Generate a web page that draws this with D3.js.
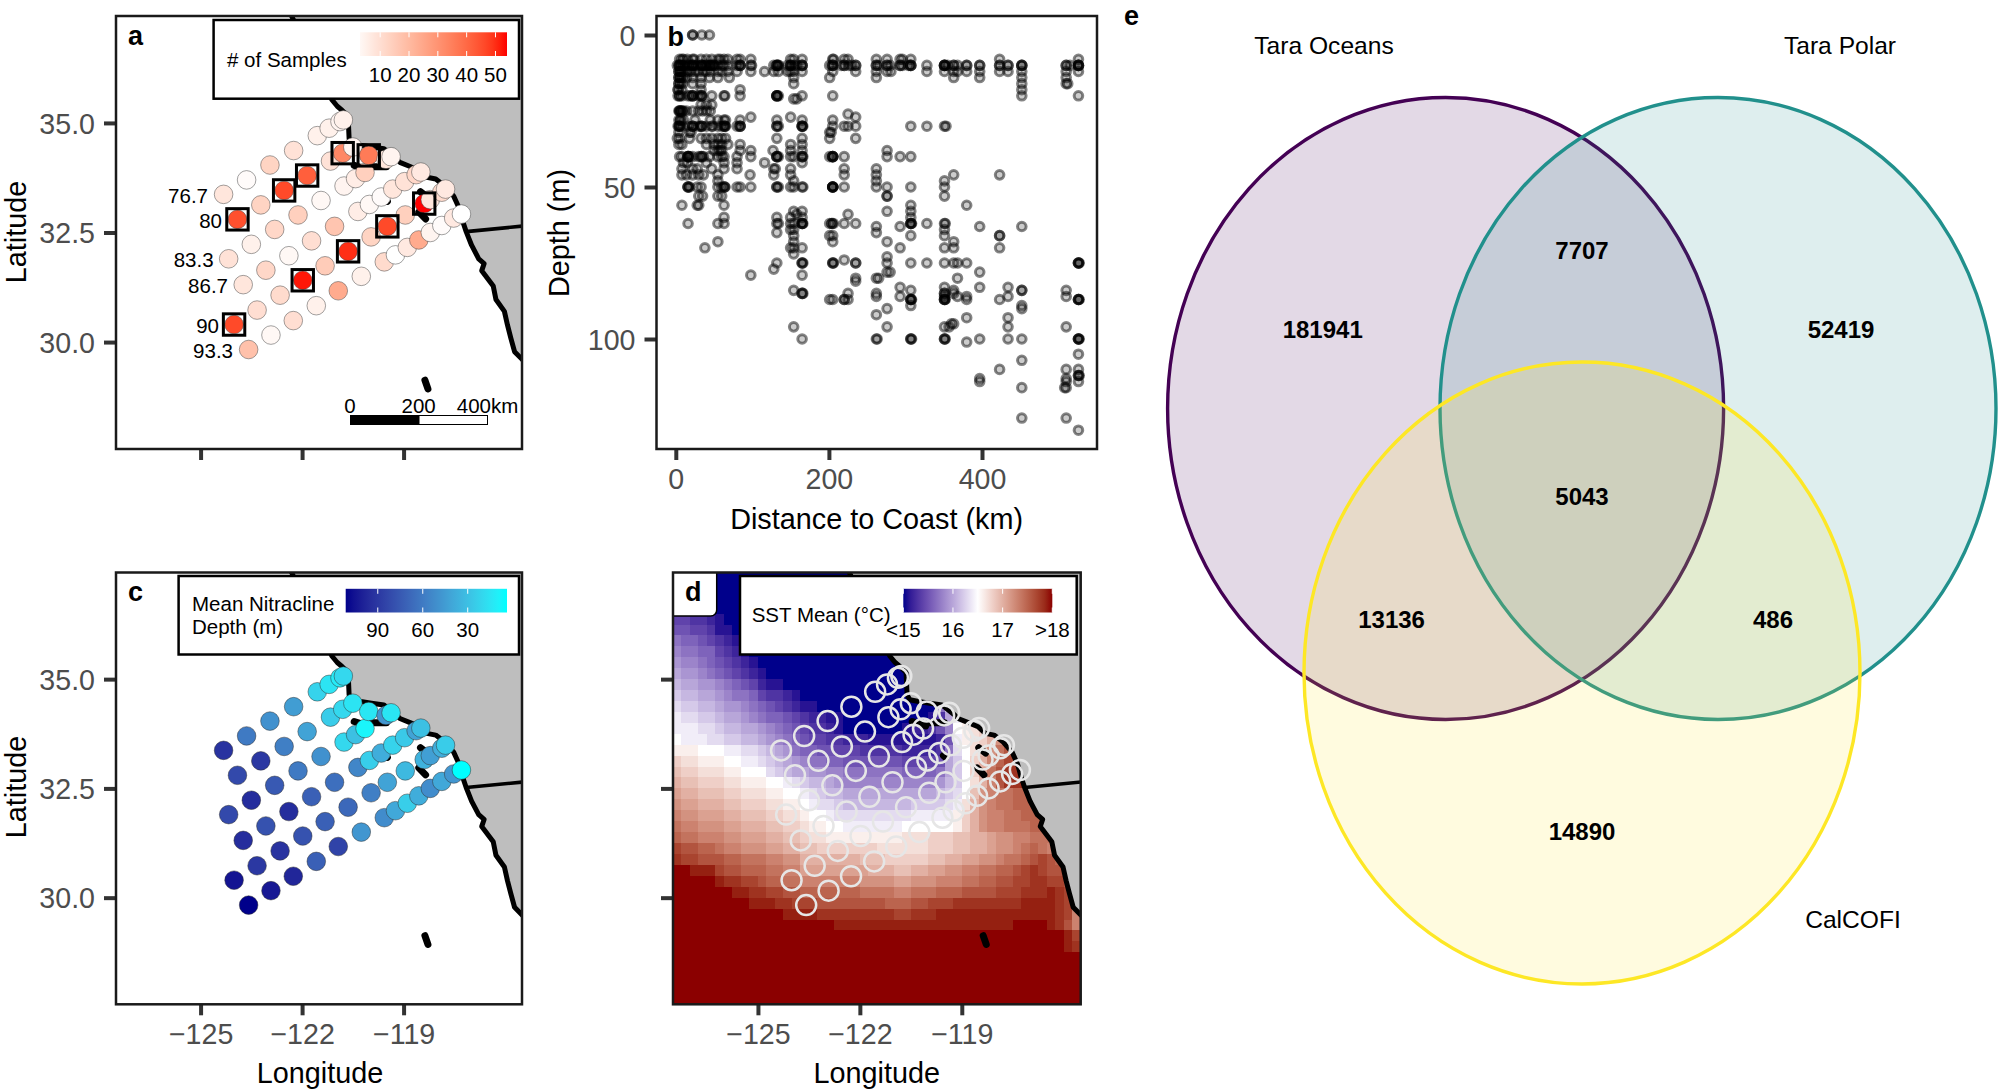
<!DOCTYPE html>
<html>
<head>
<meta charset="utf-8">
<title>CalCOFI stations</title>
<script src="https://cdnjs.cloudflare.com/ajax/libs/d3/7.8.5/d3.min.js"></script>
<style>
  body { margin: 0; background: #fff; }
  text { font-family: "Liberation Sans", Arial, sans-serif; }
  .axis .domain { display: none; }
  .axis line { stroke: #333; stroke-width: 4; }
  .axis text { fill: #4d4d4d; font-size: 28.6px; font-family: "Liberation Sans", Arial, sans-serif; }
  .title { font-size: 28.8px; fill: #000; }
  .small { font-size: 20.5px; fill: #000; }
  .tag { font-size: 27px; font-weight: bold; fill: #000; }
  .frame { fill: none; stroke: #1a1a1a; stroke-width: 2.5; }
  .legendbox { fill: #fff; stroke: #000; stroke-width: 2.5; }
</style>
</head>
<body>
<svg id="fig" width="1998" height="1091" xmlns="http://www.w3.org/2000/svg"></svg>
<script>
// Stations, one row per CalCOFI line, offshore to coast
var stationLon = [
  -123.58, -122.92, -122.26, -121.58, -120.93, -120.25, -119.57, -119.24, -118.89, -118.55, -118.21, -117.87, -117.52, -117.29,
  -124.01, -123.33, -122.65, -121.98, -121.32, -120.64, -119.96, -119.48, -118.95, -118.39, -118.21, -117.87, -117.76,
  -123.74, -123.07, -122.39, -121.72, -121.04, -120.35, -120.01, -119.66, -119.32, -118.97, -118.63, -118.49,
  -124.17, -123.50, -122.81, -122.12, -121.44, -120.76, -120.42, -120.14,
  -123.91, -123.22, -122.53, -121.85, -121.16, -120.80, -120.50, -120.03, -119.52, -119.37,
  -124.32, -123.64, -122.95, -122.25, -121.55, -121.20, -120.88, -120.78
];
var stationLat = [
  29.83, 30.16, 30.49, 30.83, 31.17, 31.50, 31.83, 31.99, 32.16, 32.33, 32.50, 32.66, 32.83, 32.92,
  30.40, 30.73, 31.07, 31.41, 31.74, 32.07, 32.40, 32.64, 32.90, 33.16, 33.25, 33.42, 33.49,
  31.31, 31.64, 31.97, 32.31, 32.64, 32.98, 33.14, 33.31, 33.49, 33.66, 33.82, 33.88,
  31.90, 32.23, 32.57, 32.90, 33.23, 33.56, 33.73, 33.87,
  32.80, 33.13, 33.46, 33.80, 34.13, 34.31, 34.45, 34.26, 34.17, 34.23,
  33.37, 33.70, 34.04, 34.37, 34.71, 34.88, 35.03, 35.07
];
var stationSamples = [
  18, 3, 10, 5, 24, 5, 11, 1, 7, 24, 4, 2, 7, 1,
  46, 10, 11, 52, 15, 50, 13, 46, 14, 53, 8, 11, 7,
  8, 12, 3, 10, 17, 6, 3, 2, 8, 9, 12, 7,
  9, 5, 12, 14, 3, 4, 6, 14,
  45, 13, 46, 42, 9, 33, 4, 36, 8, 4,
  8, 2, 13, 9, 5, 5, 4, 5
];
var stationNitracline = [
  111, 103, 98, 72, 85, 48, 52, 40, 24, 38, 52, 40, 48, 4,
  105, 90, 92, 78, 72, 68, 58, 42, 33, 36, 44, 38, 25,
  95, 78, 95, 72, 65, 55, 24, 38, 22, 26, 42, 30,
  82, 95, 75, 60, 50, 20, 30, 8,
  82, 90, 58, 42, 25, 20, 15, 14, 48, 14,
  92, 60, 50, 45, 22, 15, 12, 20
];
var boxedSamples = 30; // stations sampled this often get a box

var lineNames = ['76.7', '80', '83.3', '86.7', '90', '93.3'];

var coastLon = [-122.41, -121.12, -120.96, -120.82, -120.64, -120.61, -120.53, -120.27, -119.95, -119.58, -119.21, -119.11, -118.79, -118.52, -118.31, -118.05, -117.78, -117.52, -117.36, -117.25, -117.15, -116.99, -116.78, -116.62, -116.69, -116.35, -116.27, -116.02, -115.93, -115.83, -115.72, -115.49, -115.3];
var coastLat = [37.6, 35.53, 35.38, 35.29, 35.15, 34.64, 34.53, 34.49, 34.45, 34.41, 34.18, 34.10, 34.00, 33.91, 33.76, 33.72, 33.56, 33.33, 33.06, 32.75, 32.52, 32.21, 31.90, 31.79, 31.63, 31.28, 30.97, 30.70, 30.39, 30.09, 29.78, 29.60, 29.5];
var borderLon = [-117.15, -115.3];
var borderLat = [32.52, 32.66];
var islands = [
  [[-120.46, 34.03], [-120.06, 33.93]],
  [[-119.95, 34.0], [-119.51, 34.0]],
  [[-119.54, 33.25], [-119.48, 33.21]],
  [[-118.50, 33.43], [-118.30, 33.31]],
  [[-118.55, 32.97], [-118.35, 32.81]],
  [[-118.37, 29.13], [-118.28, 28.93]]
];

// Depth (m) of each sample row and the distances (km) sampled at that depth
var sampleDepths = [0, 8, 10, 12, 14, 16, 18, 20, 21, 23, 25, 26, 27, 28, 30, 32, 34, 36, 38, 40, 42, 44, 46, 48, 50, 53, 56, 58, 59, 60, 62, 63, 64, 65, 66, 68, 70, 72, 73, 74, 75, 77, 78, 79, 80, 81, 83, 84, 85, 86, 87, 89, 90, 92, 93, 95, 96, 100, 101, 105, 107, 110, 112, 113, 114, 116, 126, 130];
var sampleDistances = [
  [22, 22, 34, 44],
  [5, 8, 10, 15, 22, 24, 33, 40, 47, 55, 58, 63, 68, 80, 84, 98, 150, 154, 165, 205, 206, 220, 225, 262, 276, 293, 296, 307, 423, 526],
  [2, 4, 5, 5, 6, 8, 10, 13, 16, 19, 22, 22, 22, 25, 28, 33, 34, 34, 36, 40, 40, 44, 44, 47, 47, 50, 50, 55, 60, 63, 68, 80, 84, 84, 84, 98, 99, 128, 132, 132, 132, 134, 134, 146, 150, 150, 150, 154, 158, 165, 165, 165, 201, 205, 205, 205, 216, 220, 220, 226, 230, 235, 235, 262, 262, 265, 276, 276, 280, 293, 293, 296, 304, 307, 307, 307, 328, 351, 351, 351, 351, 355, 363, 363, 368, 380, 380, 397, 397, 423, 423, 434, 434, 452, 452, 452, 510, 510, 515, 526, 526, 526, 526],
  [4, 4, 6, 6, 8, 12, 16, 20, 25, 30, 36, 40, 45, 55, 60, 68, 80, 98, 116, 128, 134, 146, 150, 154, 165, 205, 235, 262, 276, 281, 328, 351, 363, 368, 380, 397, 423, 434, 452, 510, 526],
  [4, 4, 6, 6, 9, 14, 22, 33, 44, 55, 70, 154, 201, 262, 363, 397, 452, 510],
  [4, 4, 6, 9, 22, 33, 154, 452, 510, 512],
  [3, 3, 8, 33, 84, 452],
  [3, 5, 5, 8, 16, 19, 22, 22, 22, 30, 33, 34, 34, 47, 63, 64, 84, 132, 132, 132, 132, 134, 165, 205, 452, 526],
  [154, 158],
  [33, 40, 47],
  [4, 5, 5, 6, 8, 8, 10, 14, 22, 30, 35, 40, 45],
  [225],
  [98, 150, 235],
  [4, 6, 6, 10, 25, 45, 55, 63, 65, 84, 132, 165, 205],
  [3, 4, 5, 5, 8, 16, 22, 22, 22, 30, 33, 34, 34, 40, 47, 48, 55, 60, 63, 64, 64, 65, 80, 84, 84, 84, 132, 132, 134, 165, 165, 165, 166, 205, 220, 225, 235, 307, 328, 351, 353],
  [4, 18, 20, 201, 203],
  [2, 5, 18, 33, 40, 47, 55, 60, 65, 132, 165, 201, 235],
  [4, 8, 40, 50, 55, 60, 68, 84, 150, 165],
  [50, 55, 58, 60, 84, 98, 127, 150, 165, 276],
  [5, 8, 16, 16, 16, 16, 18, 22, 30, 33, 34, 36, 44, 55, 60, 63, 80, 98, 132, 132, 132, 134, 150, 154, 165, 165, 166, 201, 205, 205, 205, 205, 220, 276, 293, 307],
  [10, 15, 40, 63, 80, 116, 165],
  [8, 22, 28, 47, 63, 80, 128, 130, 150, 220, 262],
  [8, 14, 22, 30, 36, 55, 97, 128, 150, 220, 262, 363, 423],
  [55, 154, 262, 351],
  [16, 16, 16, 18, 28, 33, 55, 60, 63, 64, 64, 80, 84, 98, 132, 132, 134, 150, 154, 165, 166, 205, 205, 205, 205, 205, 220, 262, 276, 307, 351],
  [30, 35, 55, 60, 276, 276, 351],
  [8, 28, 30, 63, 307, 380],
  [154, 165, 276, 307],
  [158, 225],
  [63, 132, 150, 165, 307],
  [16, 55, 63, 132, 134, 150, 154, 165, 165, 165, 166, 201, 204, 204, 206, 220, 235, 307, 307, 307, 308, 328, 351, 352],
  [262, 293, 397, 452],
  [150, 154, 351],
  [132, 262],
  [154, 201, 205, 307, 351, 423, 423],
  [55, 154, 205, 276, 363],
  [38, 150, 154, 165, 293, 351, 363, 423],
  [154],
  [276],
  [220],
  [132, 165, 165, 166, 205, 205, 206, 235, 235, 276, 307, 328, 351, 363, 368, 380, 526, 526, 526, 527],
  [128],
  [276, 280, 397],
  [98, 165],
  [235, 262, 265, 368],
  [235],
  [293, 351, 397, 434],
  [154, 307, 363, 452, 452, 510],
  [165, 165, 166, 225, 262, 351, 351, 363],
  [262, 293, 351, 368, 380, 434, 510],
  [201, 205, 220, 220, 225, 307, 307, 307, 308, 351, 351, 351, 352, 380, 423, 526, 526, 526, 527],
  [307, 452],
  [276, 452],
  [262],
  [380, 434],
  [360, 363],
  [154, 276, 351, 357, 434, 510],
  [165, 262, 263, 307, 307, 308, 351, 351, 352, 397, 434, 452, 526, 526, 526, 527],
  [380],
  [526],
  [452],
  [423, 510, 526],
  [526, 526, 527],
  [397, 510],
  [397, 510, 526],
  [452, 508, 510],
  [452, 510],
  [526]
];

// SST rows north to south on a 0.25 degree grid, west to east. One character per
// cell in base 36: 0 = 15.0 C up to u = 18.0 C. A row's last value runs to the edge.
var sstRows = [
  '0',
  '0',
  '0',
  '0',
  '4433210',
  '55443110',
  '766543210',
  '8776643210',
  '98876543210',
  'a99876543210',
  'baa99876542110',
  'cbbaa98776433210',
  'dccbba99876543211000000000000007cd',
  'eddccbaa98766543221100000000001' + '3aef',
  'eeeddcbbaa9876543321000000012235' + '8fghijk',
  'feeeddccbba98765443322211111111' + '25eghikmop',
  'gggfffeeddcba976655444333332222' + '37dfhjmoqrr',
  'ihhgggffeedcba98776655555554444' + '5acfiknprss',
  'jiihhhggfffdcbaa998877777776666' + '7acfiloqsst',
  'kjjiiihhgggffedcbba988888888888' + '9bcfhknqsstt',
  'lkkjjjiihhhggffedcbbaaaaaaaaaaa' + 'bcdfjmnooppq',
  'mllkkkjjiiihhggfeddcbbbbbbbbccc' + 'cdehkmnoopppp',
  'nmmlllkkjjjiihhgffedddddddddeee' + 'eegikmnnoopppp',
  'onnmmmllkkkjjiihggffeeeeeeeffff' + 'ffgikmnnooopppp',
  'poonnnmmlllkkjjihhgg' + 'ggggggg' + 'hhhiiijjkklmmnnooonnn',
  'rqqpponnmmmllkkjjiii' + 'iiiihhh' + 'hhhiiijjkklmmnoponnnn',
  'srrqqqppooonnmmkkkkk' + 'kkjjjii' + 'iiijjkkllmmnoopqrqppp',
  'uutttrqqpppoonnlllll' + 'lllkkkj' + 'jkkllmmnnooppqrsrqqqq',
  'uuuuutssrrqppoonnnnn' + 'nnmmmml' + 'lmmmnnnooppqqrrssrrqq',
  'uuuuuuuttssrrqqppppp' + 'ppoooon' + 'nooopppqqqqrrrssstsrq',
  'uuuuuuuuutttssrrrqqq' + 'qqqqqpp' + 'pqqrrrssssssssttttsrq',
  'uuuuuuuuuuuuuttttsss' + 'ssssssr' + 'rssstttttttttttttt' + 'srn',
  'uuuuuuuuuuuuuuuuuuut' + 'ttttttt' + 'tttttttttttttuuuutsqn',
  'uuuuuuuuuuuuuuuuuuuuuuuuuuuuuuuuuuuuuuuuuuuuuutr',
  'uuuuuuuuuuuuuuuuuuuuuuuuuuuuuuuuuuuuuuuuuuuuuuts',
  'u', 'u', 'u', 'u', 'u'
];
var sstColumns = 48;
var sstWest = -127.5;
var sstNorth = 37.5;
var sstCell = 0.25;

// Venn
var vennNames = ['Tara Oceans', 'Tara Polar', 'CalCOFI'];
var vennColors = ['#440154', '#21908c', '#fde725'];
var vennCounts = ['181941', '7707', '52419', '5043', '13136', '486', '14890'];

var samplesTicks = [10, 20, 30, 40, 50];
var nitraclineTicks = [90, 60, 30];
var sstTicks = [15, 16, 17, 18];
var sstTickLabels = ['<15', '16', '17', '>18'];

var svg = d3.select('#fig');
var defs = svg.append('defs');

var lonTicks = [-125, -122, -119];
var latTicks = [30, 32.5, 35];
var lonDomain = [-127.5, -115.5];
var latDomain = [37.44, 27.56];

var samplesColor = d3.scaleLinear().domain([1, 53]).range(['#ffffff', '#ff0000']).interpolate(d3.interpolateLab);
var nitraclineColor = d3.scaleLinear().domain([111, 4]).range(['#00008b', '#00ffff']).interpolate(d3.interpolateLab);
var sstColor = d3.scaleLinear().domain([15, 16.5, 18]).range(['#00008b', '#ffffff', '#8b0000']).interpolate(d3.interpolateLab);

var stations = stationLon.map(function (lon, i) {
  return {lon: lon, lat: stationLat[i], samples: stationSamples[i], nitracline: stationNitracline[i]};
});

var clipCount = 0;

// One map panel: scales, clip group, land and coast.
var makeMap = function (box, showLat, showLon, belowLand) {
  var x = d3.scaleLinear().domain(lonDomain).range([box.left, box.right]);
  var y = d3.scaleLinear().domain(latDomain).range([box.top, box.bottom]);
  var clipId = 'clip' + (clipCount++);
  defs.append('clipPath').attr('id', clipId).append('rect')
    .attr('x', box.left).attr('y', box.top)
    .attr('width', box.right - box.left).attr('height', box.bottom - box.top);
  var g = svg.append('g').attr('clip-path', 'url(#' + clipId + ')');
  var line = d3.line().x(function (d) { return x(d[0]); }).y(function (d) { return y(d[1]); });
  var coast = coastLon.map(function (lon, i) { return [lon, coastLat[i]]; });
  var border = borderLon.map(function (lon, i) { return [lon, borderLat[i]]; });

  if (belowLand) { belowLand(g, x, y); }

  g.append('path')
    .attr('d', line(coast.concat([[-115, 29.5], [-115, 38], [-122.41, 38]])) + 'Z')
    .attr('fill', '#bebebe');
  g.append('path').attr('d', line(coast)).attr('fill', 'none')
    .attr('stroke', '#000').attr('stroke-width', 5).attr('stroke-linejoin', 'round');
  g.append('path').attr('d', line(border)).attr('fill', 'none')
    .attr('stroke', '#000').attr('stroke-width', 3.6);
  g.selectAll('.island').data(islands).enter().append('path')
    .attr('class', 'island').attr('d', line).attr('fill', 'none')
    .attr('stroke', '#000').attr('stroke-width', 7).attr('stroke-linecap', 'round');

  var yAxis = d3.axisLeft(y).tickValues(latTicks).tickSize(12).tickPadding(9).tickFormat(d3.format('.1f'));
  var xAxis = d3.axisBottom(x).tickValues(lonTicks).tickSize(11).tickPadding(8.5).tickFormat(d3.format('d'));
  var ya = svg.append('g').attr('class', 'axis').attr('transform', 'translate(' + box.left + ',0)').call(yAxis);
  var xa = svg.append('g').attr('class', 'axis').attr('transform', 'translate(0,' + box.bottom + ')').call(xAxis);
  ya.selectAll('text').attr('dy', '0.36em');
  if (!showLat) { ya.selectAll('text').remove(); }
  if (!showLon) { xa.selectAll('text').remove(); }
  return {g: g, x: x, y: y, box: box};
};

var drawFrame = function (box) {
  svg.append('rect').attr('class', 'frame')
    .attr('x', box.left).attr('y', box.top)
    .attr('width', box.right - box.left).attr('height', box.bottom - box.top);
};

// Legend bar with a gradient and white tick marks
var colorBar = function (id, color, domain, bar, ticks, labels, labelY) {
  var grad = defs.append('linearGradient').attr('id', id);
  d3.range(0, 1.001, 0.05).forEach(function (t) {
    grad.append('stop').attr('offset', t)
      .attr('stop-color', color(domain[0] + t * (domain[1] - domain[0])));
  });
  var x = d3.scaleLinear().domain(domain).range([bar.left, bar.right]);
  svg.append('rect').attr('x', bar.left).attr('y', bar.top)
    .attr('width', bar.right - bar.left).attr('height', bar.bottom - bar.top)
    .attr('fill', 'url(#' + id + ')');
  ticks.forEach(function (t, i) {
    [[bar.top, bar.top + 5], [bar.bottom - 5, bar.bottom]].forEach(function (s) {
      svg.append('line').attr('x1', x(t)).attr('x2', x(t)).attr('y1', s[0]).attr('y2', s[1])
        .attr('stroke', '#fff').attr('stroke-width', 1);
    });
    svg.append('text').attr('class', 'small').attr('x', x(t)).attr('y', labelY)
      .attr('text-anchor', 'middle').text(labels[i]);
  });
};

var label = function (cls, x, y, txt, anchor) {
  return svg.append('text').attr('class', cls).attr('x', x).attr('y', y)
    .attr('text-anchor', anchor || 'start').text(txt);
};

var sideTitle = function (x, y, txt) {
  svg.append('text').attr('class', 'title').attr('text-anchor', 'middle')
    .attr('transform', 'translate(' + x + ',' + y + ') rotate(-90)').text(txt);
};

// a: number of samples
var mapA = makeMap({left: 116, right: 522, top: 16, bottom: 449}, true, false);
mapA.g.selectAll('.st').data(stations).enter().append('circle')
  .attr('class', 'st')
  .attr('cx', function (d) { return mapA.x(d.lon); })
  .attr('cy', function (d) { return mapA.y(d.lat); })
  .attr('r', 9.3)
  .attr('fill', function (d) { return samplesColor(d.samples); })
  .attr('stroke', '#444').attr('stroke-width', 0.5);
mapA.g.selectAll('.bx').data(stations.filter(function (d) { return d.samples >= boxedSamples; })).enter().append('rect')
  .attr('class', 'bx')
  .attr('x', function (d) { return mapA.x(d.lon) - 10.7; })
  .attr('y', function (d) { return mapA.y(d.lat) - 10.7; })
  .attr('width', 21.4).attr('height', 21.4)
  .attr('fill', 'none').attr('stroke', '#000').attr('stroke-width', 3);
[[208, 203], [222, 228], [213.6, 267], [228, 293], [219, 332.7], [233, 358]].forEach(function (p, i) {
  label('small', p[0], p[1], lineNames[i], 'end');
});
mapA.g.append('rect').attr('x', 350).attr('y', 415).attr('width', 69).attr('height', 10).attr('fill', '#000');
mapA.g.append('rect').attr('x', 419).attr('y', 415.5).attr('width', 68.5).attr('height', 9)
  .attr('fill', '#fff').attr('stroke', '#000').attr('stroke-width', 1);
label('small', 350, 413, '0', 'middle');
label('small', 418.6, 413, '200', 'middle');
label('small', 487.5, 413, '400km', 'middle');
svg.append('rect').attr('class', 'legendbox').attr('x', 213.6).attr('y', 20).attr('width', 305.4).attr('height', 78.7);
label('small', 227, 66.7, '# of Samples');
colorBar('gradSamples', samplesColor, [3, 54], {left: 360, right: 507, top: 32.3, bottom: 56}, samplesTicks, samplesTicks, 81.7);
drawFrame(mapA.box);
label('tag', 128, 45, 'a');
sideTitle(26, 232, 'Latitude');

// b: depth against distance to coast
var bBox = {left: 656.5, right: 1097, top: 16, bottom: 449};
var bx = d3.scaleLinear().domain([0, 400]).range([675.8, 982]);
var by = d3.scaleLinear().domain([0, 100]).range([35, 339]);
var samplePoints = [];
sampleDepths.forEach(function (depth, i) {
  sampleDistances[i].forEach(function (km) { samplePoints.push({km: km, depth: depth}); });
});
svg.append('g').selectAll('circle').data(samplePoints).enter().append('circle')
  .attr('cx', function (d) { return bx(d.km); })
  .attr('cy', function (d) { return by(d.depth); })
  .attr('r', 4.3)
  .attr('fill', '#000').attr('fill-opacity', 0.2)
  .attr('stroke', '#000').attr('stroke-opacity', 0.48).attr('stroke-width', 3);
svg.append('g').attr('class', 'axis').attr('transform', 'translate(' + bBox.left + ',0)')
  .call(d3.axisLeft(by).tickValues([0, 50, 100]).tickSize(12).tickPadding(9))
  .selectAll('text').attr('dy', '0.36em');
svg.append('g').attr('class', 'axis').attr('transform', 'translate(0,' + bBox.bottom + ')')
  .call(d3.axisBottom(bx).tickValues([0, 200, 400]).tickSize(11).tickPadding(8.5));
drawFrame(bBox);
label('tag', 667.6, 46, 'b');
sideTitle(569, 233, 'Depth (m)');
label('title', 876.6, 529, 'Distance to Coast (km)', 'middle');

// c: nitracline depth
var mapC = makeMap({left: 116, right: 522, top: 572.5, bottom: 1004.3}, true, true);
mapC.g.selectAll('.st').data(stations).enter().append('circle')
  .attr('class', 'st')
  .attr('cx', function (d) { return mapC.x(d.lon); })
  .attr('cy', function (d) { return mapC.y(d.lat); })
  .attr('r', 9.3)
  .attr('fill', function (d) { return nitraclineColor(d.nitracline); })
  .attr('stroke', '#333').attr('stroke-width', 0.5);
svg.append('rect').attr('class', 'legendbox').attr('x', 178.6).attr('y', 576).attr('width', 340.4).attr('height', 78.5);
label('small', 192, 610.8, 'Mean Nitracline');
label('small', 192, 633.5, 'Depth (m)');
colorBar('gradNitra', nitraclineColor, [111.4, 3.8], {left: 345.7, right: 507, top: 588.8, bottom: 612.5}, nitraclineTicks, nitraclineTicks, 636.5);
drawFrame(mapC.box);
label('tag', 128, 600.6, 'c');
sideTitle(26, 787, 'Latitude');
label('title', 320, 1083, 'Longitude', 'middle');

// d: SST raster with station rings
var sstCells = [];
sstRows.forEach(function (row, r) {
  var last = row.charAt(row.length - 1);
  row.padEnd(sstColumns, last).split('').forEach(function (c, col) {
    sstCells.push({
      lon: sstWest + col * sstCell,
      lat: sstNorth - r * sstCell,
      sst: 15 + parseInt(c, 36) / 10
    });
  });
});
var mapD = makeMap({left: 673, right: 1080.7, top: 572.5, bottom: 1004.3}, false, true, function (g, x, y) {
  g.selectAll('.cell').data(sstCells).enter().append('rect')
    .attr('class', 'cell')
    .attr('x', function (d) { return x(d.lon); })
    .attr('y', function (d) { return y(d.lat); })
    .attr('width', x(sstWest + sstCell) - x(sstWest) + 0.4)
    .attr('height', y(sstNorth - sstCell) - y(sstNorth) + 0.4)
    .attr('shape-rendering', 'crispEdges')
    .attr('fill', function (d) { return sstColor(d.sst); });
});
mapD.g.selectAll('.st').data(stations).enter().append('circle')
  .attr('class', 'st')
  .attr('cx', function (d) { return mapD.x(d.lon); })
  .attr('cy', function (d) { return mapD.y(d.lat); })
  .attr('r', 10)
  .attr('fill', 'none')
  .attr('stroke', '#e6e6e6').attr('stroke-width', 2.5);
mapD.g.append('rect').attr('x', 660).attr('y', 560).attr('width', 56.7).attr('height', 56).attr('rx', 6)
  .attr('fill', '#fff').attr('stroke', '#000').attr('stroke-width', 1.5);
svg.append('rect').attr('class', 'legendbox').attr('x', 740).attr('y', 576).attr('width', 336.7).attr('height', 78.5);
label('small', 751.7, 622, 'SST Mean (°C)');
colorBar('gradSst', sstColor, [15, 18], {left: 903.3, right: 1052.3, top: 588.8, bottom: 612.5}, sstTicks, sstTickLabels, 636.5);
drawFrame(mapD.box);
label('tag', 685, 601, 'd');
label('title', 876.7, 1083, 'Longitude', 'middle');

// e: Venn
var vennLayout = [
  {cx: 1445.6, cy: 408.5, nameX: 1324, nameY: 54},
  {cx: 1718, cy: 408.5, nameX: 1840, nameY: 54},
  {cx: 1582, cy: 673, nameX: 1853, nameY: 928}
];
var vennCountPos = [[1322.7, 329.7], [1582, 250.6], [1841, 329.7], [1582, 496.7], [1391.6, 620], [1773, 620], [1582, 831.6]];
vennNames.forEach(function (name, i) {
  var v = vennLayout[i];
  svg.append('ellipse').attr('cx', v.cx).attr('cy', v.cy).attr('rx', 278).attr('ry', 311)
    .attr('fill', vennColors[i]).attr('fill-opacity', 0.15)
    .attr('stroke', vennColors[i]).attr('stroke-width', 3.4);
  svg.append('text').attr('x', v.nameX).attr('y', v.nameY).attr('text-anchor', 'middle')
    .attr('font-size', 24.6).text(name);
});
vennCounts.forEach(function (c, i) {
  svg.append('text').attr('x', vennCountPos[i][0]).attr('y', vennCountPos[i][1])
    .attr('dy', '0.35em').attr('text-anchor', 'middle')
    .attr('font-size', 24).attr('font-weight', 'bold').text(c);
});
label('tag', 1124, 25, 'e');
</script>
</body>
</html>
